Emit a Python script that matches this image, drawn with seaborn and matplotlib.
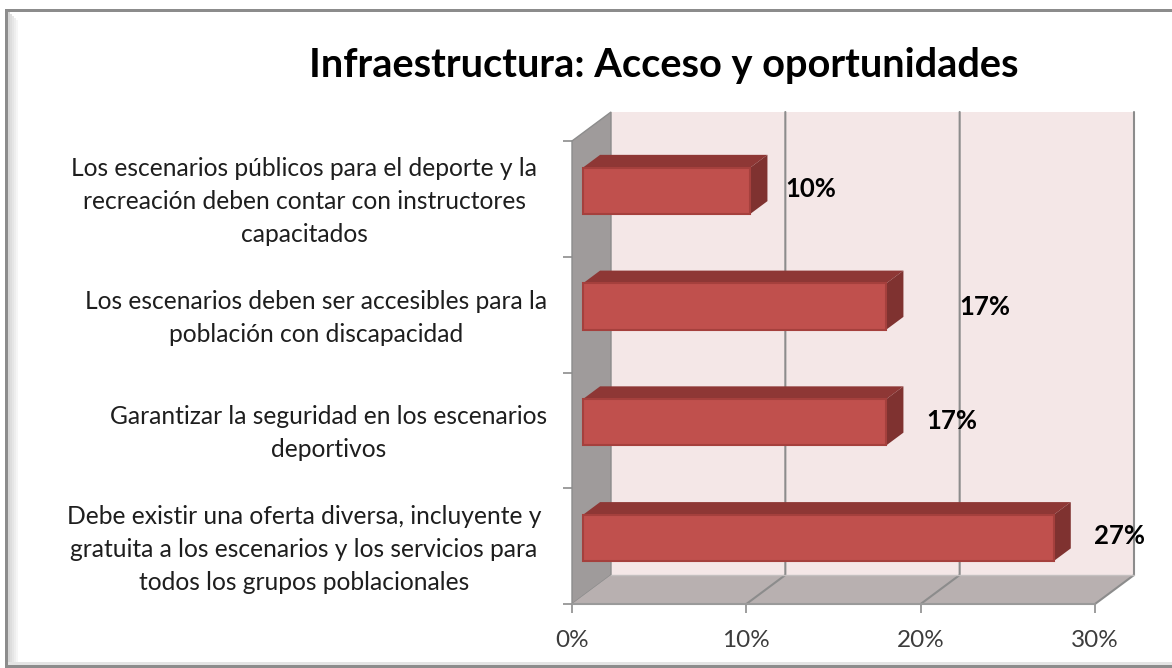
import matplotlib
matplotlib.use('Agg')
import matplotlib.pyplot as plt
from matplotlib.patches import Polygon, Rectangle
from matplotlib.transforms import ScaledTranslation
import seaborn as sns

W, H = 1172, 668

# Chart values
categories = [
    'Los escenarios públicos para el deporte y la\nrecreación deben contar con instructores\ncapacitados',
    'Los escenarios deben ser accesibles para la\npoblación con discapacidad',
    'Garantizar la seguridad en los escenarios\ndeportivos',
    'Debe existir una oferta diversa, incluyente y\ngratuita a los escenarios y los servicios para\ntodos los grupos poblacionales',
]
values = [9.6, 17.4, 17.4, 27.0]
value_labels = ['10%', '17%', '17%', '27%']
x_ticks = [0, 10, 20, 30]
title = 'Infraestructura: Acceso y oportunidades'

sns.set_style('white')
plt.rcParams['font.family'] = ['Lato', 'DejaVu Sans']

fig = plt.figure(figsize=(W / 100, H / 100), dpi=100)
fig.patch.set_facecolor('white')

# Plot area in pixels of the front plane
left, right, top, bottom = 572, 1095, 141, 604
ax = fig.add_axes([left / W, 1 - bottom / H, (right - left) / W, (bottom - top) / H])
ax.patch.set_alpha(0)


def frame_rect(x0, y0, x1, y1, color):
    # Rectangle in image pixels, behind the axes
    fig.add_artist(Rectangle((x0 / W, 1 - y1 / H), (x1 - x0) / W, (y1 - y0) / H,
                             transform=fig.transFigure, facecolor=color,
                             edgecolor='none', zorder=-1))


# Outer frame with the bevel on the left and at the bottom
frame_rect(5, 9, W, 12, '#8c8c8c')
frame_rect(5, 9, 8, H, '#8c8c8c')
for i, c in enumerate(['#d6d6d6', '#dedede', '#e6e6e6', '#eeeeee', '#f6f6f6']):
    frame_rect(8 + i * 2, 12 + i * 2, 10 + i * 2, 662, c)
frame_rect(8, 662, W, 665, '#e4e4e4')
frame_rect(5, 665, W, H, '#8c8c8c')

sns.barplot(x=values, y=categories, orient='h', width=0.4, color='#c0504d',
            saturation=1, edgecolor='#a5403d', linewidth=1.5, ax=ax, zorder=4)

ax.set_xlim(0, 30)
ax.set_ylim(3.5, -0.5)

# Depth of the 3D box, in data units
depth_x = 39 / ((right - left) / 30)
depth_y = 29 / ((bottom - top) / 4)


def project(x, y, d):
    return (x + d * depth_x, y - d * depth_y)


def face(points, color, zorder, edge='none', lw=0):
    ax.add_patch(Polygon(points, closed=True, facecolor=color, edgecolor=edge,
                         linewidth=lw, zorder=zorder, clip_on=False))


y0, y1 = 3.5, -0.5
xmax = x_ticks[-1]

# Back wall, left wall, floor
face([project(0, y0, 1), project(xmax, y0, 1), project(xmax, y1, 1), project(0, y1, 1)],
     '#f4e7e7', 0)
face([project(0, y0, 0), project(0, y0, 1), project(0, y1, 1), project(0, y1, 0)],
     '#9f9b9b', 0.5, '#8c8c8c', 1)
face([project(0, y0, 0), project(xmax, y0, 0), project(xmax, y0, 1), project(0, y0, 1)],
     '#b8b0b0', 0.5)

# Gridlines on the back wall and floor
for t in x_ticks[1:]:
    xs, ys = zip(project(t, y0, 0), project(t, y0, 1), project(t, y1, 1))
    ax.plot(xs, ys, color='#8c8c8c', lw=1.5, zorder=1, clip_on=False, solid_joinstyle='miter')
ax.plot(*zip(project(0, y0, 0), project(xmax, y0, 0)), color='#9a9a9a', lw=1.5, zorder=1, clip_on=False)
ax.plot(*zip(project(0, y0, 1), project(xmax, y0, 1)), color='#c4c0c0', lw=1, zorder=1, clip_on=False)

# Move the bars inside the box and give them top and side faces
d_front, d_back = 0.28, 0.72
for bar, val in zip(ax.patches[:len(values)], values):
    by = bar.get_y()
    bh = bar.get_height()
    fx, fy = project(0, by, d_front)
    bar.set_x(fx)
    bar.set_y(fy)
    t0, t1 = by, by + bh
    face([project(0, t0, d_front), project(val, t0, d_front),
          project(val, t0, d_back), project(0, t0, d_back)], '#8e3735', 3)
    face([project(val, t0, d_front), project(val, t1, d_front),
          project(val, t1, d_back), project(val, t0, d_back)], '#7f3230', 3)

# Value labels, with the pixel offset from the end of each bar
label_offsets = [(61, 2), (99, 0), (66, 1), (66, 2)]
for i, (val, txt, off) in enumerate(zip(values, value_labels, label_offsets)):
    ax.annotate(txt, xy=project(val, i, d_front), xytext=(off[0] * 0.72, off[1] * 0.72),
                textcoords='offset points', ha='center', va='center',
                fontsize=18.5, fontweight='bold', color='black', zorder=6,
                annotation_clip=False)

# Axes decoration
sns.despine(ax=ax, left=True, bottom=True, top=True, right=True)
ax.set_xticks(x_ticks)
ax.set_xticklabels([f'{t}%' for t in x_ticks])
ax.set_xlabel('')
ax.set_ylabel('')
ax.set_yticks([-0.5, 0.5, 1.5, 2.5, 3.5], minor=True)
ax.tick_params(axis='x', which='major', bottom=True, length=6.5, width=1.2,
               color='#8c8c8c', labelsize=17.5, labelcolor='#3c3c3c', pad=12.5)
ax.tick_params(axis='y', which='major', left=False, labelsize=17.7, labelcolor='#1e1e1e', pad=14.4)
ax.tick_params(axis='y', which='minor', left=True, length=6.5, width=1.2, color='#8c8c8c')

# Right edge of each block of text
label_right = [537, 547, 547, 541]
nudge_up = ScaledTranslation(0, 4 / 100, fig.dpi_scale_trans)
for lab, r in zip(ax.get_yticklabels(), label_right):
    lab.set_multialignment('center')
    lab.set_linespacing(1.53)
    lab.set_x((r - 547) / (right - left))
    lab.set_transform(lab.get_transform() + nudge_up)

fig.text(664 / W, 1 - 65 / H, title, ha='center', va='center', fontsize=28.6,
         fontweight='bold', color='black')

fig.savefig('out.png', dpi=100)
